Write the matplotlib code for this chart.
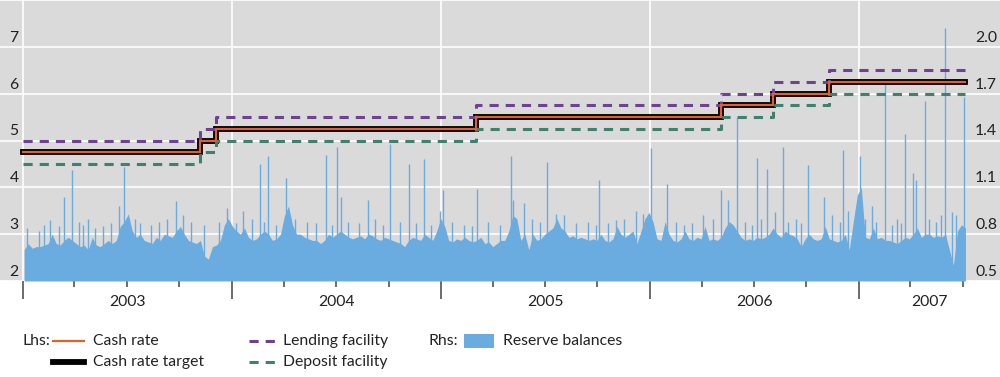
import numpy as np
import pandas as pd
import matplotlib
matplotlib.use('Agg')
import matplotlib.pyplot as plt
import matplotlib.dates as mdates
from matplotlib.lines import Line2D
from matplotlib.patches import Rectangle
from matplotlib.transforms import offset_copy, blended_transform_factory

plt.rcParams['font.family'] = ['Lato', 'DejaVu Sans']

# policy rates (steps-post, last value repeated to end of sample)
rate_dates = ['2003-01-01', '2003-11-06', '2003-12-04', '2005-03-03',
              '2006-05-04', '2006-08-03', '2006-11-09', '2007-07-06']
cash_target = [4.75, 5.00, 5.25, 5.50, 5.75, 6.00, 6.25, 6.25]
cash_rate = [4.75, 5.00, 5.25, 5.50, 5.75, 6.00, 6.25, 6.25]
lending = [5.00, 5.25, 5.50, 5.75, 6.00, 6.25, 6.50, 6.50]
deposit = [4.50, 4.75, 5.00, 5.25, 5.50, 5.75, 6.00, 6.00]

# reserve balances ($b), weekly read-off from 3 Jan 2003
reserves_start = '2003-01-03'
reserves = [
    0.70, 0.74, 0.71, 0.72, 0.72, 0.73, 0.74, 0.80, 0.74, 0.73,
    0.76, 0.78, 0.76, 0.74, 0.72, 0.73, 0.70, 0.78, 0.73, 0.72,
    0.74, 0.76, 0.74, 0.76, 0.85, 0.88, 0.93, 0.82, 0.78, 0.80,
    0.76, 0.75, 0.74, 0.78, 0.76, 0.80, 0.79, 0.78, 0.82, 0.85,
    0.80, 0.76, 0.75, 0.74, 0.76, 0.66, 0.64, 0.72, 0.73, 0.76,
    0.86, 0.90, 0.85, 0.82, 0.80, 0.84, 0.78, 0.76, 0.77, 0.80,
    0.82, 0.80, 0.76, 0.77, 0.80, 0.92, 0.98, 0.86, 0.80, 0.80,
    0.78, 0.77, 0.76, 0.76, 0.74, 0.76, 0.80, 0.78, 0.80, 0.82,
    0.80, 0.78, 0.77, 0.78, 0.79, 0.77, 0.80, 0.79, 0.77, 0.76,
    0.78, 0.77, 0.76, 0.75, 0.74, 0.72, 0.76, 0.78, 0.77, 0.76,
    0.80, 0.78, 0.76, 0.82, 0.90, 0.85, 0.76, 0.75, 0.77, 0.76,
    0.78, 0.76, 0.75, 0.76, 0.78, 0.74, 0.75, 0.72, 0.74, 0.76,
    0.76, 0.82, 0.92, 0.90, 0.76, 0.80, 0.70, 0.80, 0.76, 0.77,
    0.80, 0.82, 0.84, 0.90, 0.84, 0.82, 0.78, 0.79, 0.77, 0.78,
    0.77, 0.76, 0.77, 0.76, 0.80, 0.76, 0.75, 0.77, 0.85, 0.80,
    0.78, 0.80, 0.82, 0.74, 0.82, 0.90, 0.94, 0.88, 0.77, 0.76,
    0.88, 0.80, 0.76, 0.75, 0.77, 0.82, 0.77, 0.76, 0.78, 0.77,
    0.85, 0.76, 0.77, 0.76, 0.78, 0.84, 0.88, 0.86, 0.82, 0.78,
    0.76, 0.77, 0.76, 0.78, 0.77, 0.78, 0.80, 0.84, 0.80, 0.78,
    0.82, 0.80, 0.79, 0.77, 0.72, 0.77, 0.80, 0.77, 0.76, 0.77,
    0.85, 0.77, 0.76, 0.75, 0.76, 0.80, 0.70, 0.88, 1.05, 1.10,
    0.78, 0.77, 0.84, 0.77, 0.78, 0.76, 0.76, 0.75, 0.74, 0.76,
    0.78, 0.77, 0.80, 0.84, 0.78, 0.80, 0.80, 0.78, 0.79, 0.78,
    0.80, 0.70, 0.60, 0.82, 0.86, 0.84]

# daily spikes in reserve balances (large)
spike_dates = [
    '2003-02-18', '2003-03-14', '2003-03-28', '2003-04-25', '2003-06-18',
    '2003-06-27', '2003-09-25', '2003-12-23', '2004-01-21', '2004-02-19',
    '2004-03-05', '2004-04-05', '2004-06-14', '2004-07-02', '2004-07-09',
    '2004-08-26', '2004-10-04', '2004-11-05', '2004-12-01', '2004-12-29',
    '2005-01-04', '2005-03-04', '2005-05-02', '2005-05-06', '2005-05-25',
    '2005-07-04', '2005-07-21', '2005-10-04', '2005-11-02', '2006-01-03',
    '2006-01-31', '2006-04-03', '2006-05-05', '2006-05-17', '2006-06-02',
    '2006-07-06', '2006-07-25', '2006-08-07', '2006-08-21', '2006-10-03',
    '2006-10-31', '2006-12-04', '2007-01-02', '2007-01-23', '2007-02-16',
    '2007-03-23', '2007-04-05', '2007-04-11', '2007-04-26', '2007-06-01',
    '2007-07-04']
spike_vals = [
    0.89, 1.04, 1.21, 0.90, 0.98,
    1.23, 1.01, 0.97, 0.95, 1.25,
    1.30, 1.16, 1.31, 1.36, 1.04,
    1.02, 1.38, 1.25, 1.28, 0.95,
    1.08, 1.09, 1.30, 1.02, 1.00,
    1.26, 0.93, 1.15, 0.89, 1.35,
    1.12, 0.92, 1.08, 1.02, 1.55,
    1.29, 1.22, 0.94, 1.36, 1.24,
    1.04, 1.34, 1.30, 0.98, 1.77,
    1.44, 1.19, 1.15, 1.65, 2.12,
    1.68]

# smaller daily spikes
minor_dates = [
    '2003-01-08', '2003-01-29', '2003-02-07', '2003-03-05', '2003-04-09',
    '2003-04-16', '2003-05-07', '2003-05-21', '2003-06-04', '2003-07-15',
    '2003-07-24', '2003-08-12', '2003-08-27', '2003-09-10', '2003-10-08',
    '2003-10-21', '2003-11-13', '2003-12-10', '2004-01-08', '2004-02-05',
    '2004-02-27', '2004-03-18', '2004-04-21', '2004-05-12', '2004-05-27',
    '2004-06-24', '2004-07-22', '2004-08-11', '2004-09-08', '2004-09-22',
    '2004-10-20', '2004-11-18', '2004-12-14', '2005-01-20', '2005-02-10',
    '2005-02-24', '2005-03-24', '2005-04-14', '2005-06-08', '2005-06-22',
    '2005-08-04', '2005-08-25', '2005-09-14', '2005-09-28', '2005-10-20',
    '2005-11-16', '2005-12-07', '2005-12-19', '2006-02-15', '2006-03-01',
    '2006-03-16', '2006-04-20', '2006-06-15', '2006-06-28', '2006-07-13',
    '2006-08-30', '2006-09-13', '2006-09-21', '2006-11-15', '2006-11-29',
    '2006-12-13', '2007-01-11', '2007-01-31', '2007-02-28', '2007-03-08',
    '2007-03-15', '2007-05-03', '2007-05-16', '2007-05-24', '2007-06-13',
    '2007-06-20']
minor_vals = [
    0.84, 0.82, 0.86, 0.85, 0.88,
    0.86, 0.84, 0.85, 0.87, 0.90,
    0.87, 0.86, 0.88, 0.90, 0.92,
    0.88, 0.86, 0.88, 0.87, 0.90,
    0.88, 0.86, 0.90, 0.88, 0.87,
    0.86, 0.88, 0.87, 0.90, 0.86,
    0.88, 0.87, 0.86, 0.88, 0.86,
    0.85, 0.88, 0.86, 0.90, 0.88,
    0.92, 0.87, 0.88, 0.86, 0.87,
    0.90, 0.95, 0.93, 0.88, 0.86,
    0.87, 0.90, 0.88, 0.86, 0.90,
    0.88, 0.90, 0.87, 0.92, 0.88,
    0.95, 0.90, 0.88, 0.86, 0.90,
    0.87, 0.90, 0.88, 0.92, 0.94,
    0.92]

years = [2003, 2004, 2005, 2006, 2007]

bg = '#dadada'
c_cash = '#e0622a'
c_lend = '#6e4191'
c_dep = '#40806e'
c_res = '#6aace0'
txt = '#222222'
fs = 11.3

fig = plt.figure(figsize=(10, 3.77), dpi=100)
axr = fig.add_axes([0, 1 - 281 / 377, 1, 281 / 377])
ax = axr.twinx()

rd = pd.to_datetime(rate_dates)
wk = pd.date_range(reserves_start, periods=len(reserves), freq='7D')
sd = pd.to_datetime(spike_dates)
md = pd.to_datetime(minor_dates)

# x range: 1 Jan 2003 at 23px, 1 Jan 2007 at 859px
x0 = mdates.date2num(pd.Timestamp('2003-01-01'))
x1 = mdates.date2num(pd.Timestamp('2007-01-01'))
ppd = (859 - 23) / (x1 - x0)
xlo, xhi = x0 - 23 / ppd, x0 + 977 / ppd

axr.set_facecolor(bg)
axr.fill_between(wk, 0.5, reserves, color=c_res, lw=0, zorder=2)
axr.vlines(sd, 0.5, spike_vals, color=c_res, lw=1.0, zorder=2)
axr.vlines(md, 0.5, minor_vals, color=c_res, lw=1.0, zorder=2)
axr.set_ylim(0.5, 2.3)
axr.set_yticks(np.arange(0.5, 2.31, 0.3))
axr.set_xlim(xlo, xhi)
axr.xaxis.set_major_locator(mdates.YearLocator())
axr.xaxis.set_minor_locator(mdates.MonthLocator(bymonth=[4, 7, 10]))
axr.grid(True, which='major', color='white', lw=1.2, zorder=0)
axr.set_axisbelow(True)
axr.tick_params(axis='y', length=0, labelleft=False, labelright=False)
axr.tick_params(axis='x', which='major', length=13, width=1.1, color='#444444',
                labelbottom=False)
axr.tick_params(axis='x', which='minor', length=4, width=1.1, color='#444444')

ax.patch.set_visible(False)
ax.plot(rd, cash_target, drawstyle='steps-post', color='black', lw=4.2,
        solid_joinstyle='miter', zorder=3)
ax.plot(rd, cash_rate, drawstyle='steps-post', color=c_cash, lw=1.6,
        solid_joinstyle='miter', zorder=4)
ax.plot(rd, lending, drawstyle='steps-post', color=c_lend, lw=2.2,
        dashes=(3, 2.3), zorder=3)
ax.plot(rd, deposit, drawstyle='steps-post', color=c_dep, lw=2.2,
        dashes=(3, 2.3), zorder=3)
ax.set_ylim(2, 8)
ax.set_xlim(xlo, xhi)
ax.set_yticks([])
ax.tick_params(axis='y', length=0, labelright=False)

for a in (ax, axr):
    for s in a.spines.values():
        s.set_visible(False)

# y labels sit just above their gridlines
tl = offset_copy(ax.get_yaxis_transform(), fig=fig, y=6.6, units='points')
for v in range(2, 8):
    ax.text(0.014, v, str(v), transform=tl, ha='center', va='center',
            fontsize=fs, color=txt)
tr = offset_copy(axr.get_yaxis_transform(), fig=fig, y=6.6, units='points')
for v in np.arange(0.5, 2.01, 0.3):
    axr.text(0.986, v, f'{v:.1f}', transform=tr, ha='center', va='center',
             fontsize=fs, color=txt)

# year labels centred on the visible part of each year
bt = blended_transform_factory(axr.transData, fig.transFigure)
for y in years:
    a0 = max(mdates.date2num(pd.Timestamp(f'{y}-01-01')), xlo)
    a1 = min(mdates.date2num(pd.Timestamp(f'{y + 1}-01-01')), xhi)
    axr.text((a0 + a1) / 2, 1 - 302 / 377, str(y), transform=bt,
             ha='center', va='center', fontsize=fs, color=txt)

# legend
def fx(px):
    return px / 1000


def fy(py):
    return 1 - py / 377


r1, r2 = 341, 362
fig.text(fx(22), fy(r1), 'Lhs:', ha='left', va='center', fontsize=fs, color=txt)
fig.add_artist(Line2D([fx(53), fx(84)], [fy(r1), fy(r1)], color=c_cash, lw=1.6))
fig.text(fx(93), fy(r1), 'Cash rate', ha='left', va='center', fontsize=fs, color=txt)
fig.add_artist(Line2D([fx(53), fx(84)], [fy(r2), fy(r2)], color='black', lw=4.2))
fig.text(fx(93), fy(r2), 'Cash rate target', ha='left', va='center', fontsize=fs, color=txt)
fig.add_artist(Line2D([fx(249), fx(275)], [fy(r1), fy(r1)], color=c_lend, lw=2.2,
                      dashes=(3, 2.3)))
fig.text(fx(283), fy(r1), 'Lending facility', ha='left', va='center', fontsize=fs, color=txt)
fig.add_artist(Line2D([fx(249), fx(275)], [fy(r2), fy(r2)], color=c_dep, lw=2.2,
                      dashes=(3, 2.3)))
fig.text(fx(283), fy(r2), 'Deposit facility', ha='left', va='center', fontsize=fs, color=txt)
fig.text(fx(428), fy(r1), 'Rhs:', ha='left', va='center', fontsize=fs, color=txt)
fig.add_artist(Rectangle((fx(464), fy(348)), fx(30), 14 / 377, color=c_res, lw=0))
fig.text(fx(503), fy(r1), 'Reserve balances', ha='left', va='center', fontsize=fs, color=txt)

fig.savefig('out.png', dpi=100)
